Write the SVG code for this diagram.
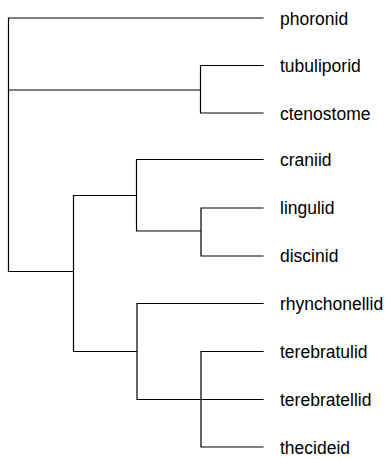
<svg xmlns="http://www.w3.org/2000/svg" width="391" height="459" viewBox="0 0 391 459">
<style>
.e{fill:none;stroke:#000;stroke-width:1.2;stroke-linecap:square}
.t{font-family:"Liberation Sans",Arial,sans-serif;font-size:17.5px;fill:#000}
</style>
<rect width="391" height="459" fill="#fff"/>
<g id="connectors">
<path class="e" d="M8.5,18 V271.5 M8.5,18 H263 M8.5,90 H200.5 M200.5,65.5 V113 M200.5,65.5 H263 M200.5,113 H263"/>
<path class="e" d="M8.5,271.5 H73.5 M73.5,195.5 V351.5 M73.5,195.5 H136.5 M136.5,159.5 V231 M136.5,159.5 H263 M136.5,231 H201 M201,208 V256 M201,208 H263 M201,256 H263"/>
<path class="e" d="M73.5,351.5 H137 M137,303.5 V399.5 M137,303.5 H263 M137,399.5 H263 M201,351.5 V447 M201,351.5 H263 M201,447 H263"/>
</g>
<g id="phoronid"><text class="t" x="280" y="24.5">phoronid</text></g>
<g id="tubuliporid"><text class="t" x="280" y="72">tubuliporid</text></g>
<g id="ctenostome"><text class="t" x="280" y="119.5">ctenostome</text></g>
<g id="craniid"><text class="t" x="280" y="166">craniid</text></g>
<g id="lingulid"><text class="t" x="280" y="214">lingulid</text></g>
<g id="discinid"><text class="t" x="280" y="262">discinid</text></g>
<g id="rhynchonellid"><text class="t" x="280" y="310">rhynchonellid</text></g>
<g id="terebratulid"><text class="t" x="280" y="358">terebratulid</text></g>
<g id="terebratellid"><text class="t" x="280" y="406">terebratellid</text></g>
<g id="thecideid"><text class="t" x="280" y="453.5">thecideid</text></g>
</svg>
